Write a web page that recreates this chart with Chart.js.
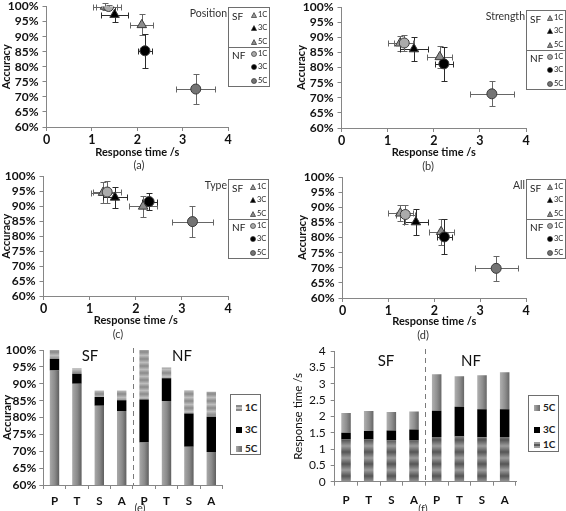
<!DOCTYPE html>
<html>
<head>
<meta charset="utf-8">
<title>Accuracy and response time</title>
<script src="https://cdn.jsdelivr.net/npm/chart.js@4.4.1/dist/chart.umd.min.js"></script>
<style>
  body { margin: 0; background: #fff; }
  #page { position: relative; width: 566px; height: 511px; overflow: hidden; font-family: Lato, sans-serif; color: #222; }
  .panel { position: absolute; }
  .tag { position: absolute; font-size: 11px; transform: translate(-50%, -50%); white-space: nowrap; color: #333; }
  .big { position: absolute; font-size: 15px; transform: translate(-50%, -50%); color: #111; }
  .box { position: absolute; border: 1px solid #6e6e6e; background: #fff; box-sizing: border-box; }
  .sep { position: absolute; left: 0; right: 0; height: 0; border-top: 1px solid #6e6e6e; }
  .grp { position: absolute; left: 3px; font-size: 10px; line-height: 12px; }
  .ent { position: absolute; font-size: 7.5px; line-height: 8px; white-space: nowrap; }
  .ent svg { vertical-align: -1px; margin-right: 1px; }
  .ttl { position: absolute; width: 62px; text-align: right; font-size: 10.5px; line-height: 12px; color: #333; }
  .bent { position: absolute; left: 5px; font-size: 10px; font-weight: bold; line-height: 10px; white-space: nowrap; }
  .sw { display: inline-block; width: 6px; height: 6px; margin-right: 3px; vertical-align: 0; }
</style>
</head>
<body>
<div id="page"></div>
<script>
// tasks in bar order: Position, Type, Strength, All
const tasks = ['P', 'T', 'S', 'A'];
const taskNames = ['Position', 'Type', 'Strength', 'All'];
const groups = ['SF', 'NF'];
const levels = ['1C', '3C', '5C'];

// accuracy (%)
const sfAcc1C = [100, 94.6, 88.0, 88.0];
const sfAcc3C = [97.3, 93.0, 86.1, 85.1];
const sfAcc5C = [93.9, 90.0, 83.5, 81.9];
const nfAcc1C = [100, 94.8, 88.1, 87.6];
const nfAcc3C = [85.3, 91.6, 81.2, 80.2];
const nfAcc5C = [72.6, 84.9, 71.3, 69.8];

// response time (s)
const sfTime1C = [1.29, 1.29, 1.27, 1.26];
const sfTime3C = [1.50, 1.55, 1.57, 1.60];
const sfTime5C = [2.10, 2.16, 2.13, 2.15];
const nfTime1C = [1.37, 1.38, 1.36, 1.37];
const nfTime3C = [2.17, 2.29, 2.22, 2.22];
const nfTime5C = [3.29, 3.23, 3.26, 3.35];

// error bars (+/-)
const sfAccErr1C = [1.0, 3.5, 2.5, 2.6];
const sfAccErr3C = [2.5, 3.4, 4.0, 4.4];
const sfAccErr5C = [3.5, 3.4, 3.7, 4.3];
const nfAccErr1C = [0.6, 3.7, 2.6, 3.0];
const nfAccErr3C = [5.6, 2.8, 5.5, 5.8];
const nfAccErr5C = [4.9, 5.3, 4.1, 4.2];
const sfTimeErr1C = [0.26, 0.27, 0.27, 0.27];
const sfTimeErr3C = [0.29, 0.27, 0.31, 0.27];
const sfTimeErr5C = [0.25, 0.30, 0.27, 0.27];
const nfTimeErr1C = [0.27, 0.30, 0.22, 0.20];
const nfTimeErr3C = [0.16, 0.16, 0.19, 0.17];
const nfTimeErr5C = [0.43, 0.45, 0.47, 0.47];

const accBy = {SF: [sfAcc1C, sfAcc3C, sfAcc5C], NF: [nfAcc1C, nfAcc3C, nfAcc5C]};
const timeBy = {SF: [sfTime1C, sfTime3C, sfTime5C], NF: [nfTime1C, nfTime3C, nfTime5C]};
const accErrBy = {SF: [sfAccErr1C, sfAccErr3C, sfAccErr5C], NF: [nfAccErr1C, nfAccErr3C, nfAccErr5C]};
const timeErrBy = {SF: [sfTimeErr1C, sfTimeErr3C, sfTimeErr5C], NF: [nfTimeErr1C, nfTimeErr3C, nfTimeErr5C]};

const markers = {
  SF: {style: 'triangle', radius: 5.5, fills: ['#9c9c9c', '#000000', '#8c8c8c']},
  NF: {style: 'circle', radius: 5, fills: ['#ababab', '#000000', '#747474']}
};
const axisColor = '#868686';
const page = document.getElementById('page');

function add(cls, css, html, parent) {
  const d = document.createElement('div');
  d.className = cls;
  Object.assign(d.style, css);
  if (html) d.innerHTML = html;
  (parent || page).appendChild(d);
  return d;
}
function makeCanvas(left, top, w, h) {
  const wrap = add('panel', {left: left + 'px', top: top + 'px', width: w + 'px', height: h + 'px'});
  const cv = document.createElement('canvas');
  cv.width = w; cv.height = h;
  wrap.appendChild(cv);
  return cv;
}
function fixScale(size, horizontal) {
  return function (s) {
    if (horizontal) s.height = size; else s.width = size;
    s.paddingTop = s.paddingBottom = s.paddingLeft = s.paddingRight = 0;
  };
}
const px = v => Math.round(v) + 0.5;

const errorBars = {
  id: 'errorBars',
  beforeDatasetsDraw(chart) {
    const {ctx, scales: {x, y}} = chart;
    ctx.save();
    ctx.lineWidth = 1;
    chart.data.datasets.forEach(ds => {
      if (!ds.xErr) return;
      ds.data.forEach((p, i) => {
        const cx = px(x.getPixelForValue(p.x)), cy = px(y.getPixelForValue(p.y));
        const x0 = px(x.getPixelForValue(p.x - ds.xErr[i])), x1 = px(x.getPixelForValue(p.x + ds.xErr[i]));
        const y0 = px(y.getPixelForValue(p.y - ds.yErr[i])), y1 = px(y.getPixelForValue(p.y + ds.yErr[i]));
        ctx.strokeStyle = ds.errColor;
        ctx.beginPath();
        ctx.moveTo(x0, cy); ctx.lineTo(x1, cy);
        ctx.moveTo(x0, cy - 3); ctx.lineTo(x0, cy + 3);
        ctx.moveTo(x1, cy - 3); ctx.lineTo(x1, cy + 3);
        ctx.moveTo(cx, y0); ctx.lineTo(cx, y1);
        ctx.moveTo(cx - 3, y0); ctx.lineTo(cx + 3, y0);
        ctx.moveTo(cx - 3, y1); ctx.lineTo(cx + 3, y1);
        ctx.stroke();
      });
    });
    ctx.restore();
  }
};

const groupDivider = {
  id: 'groupDivider',
  afterDatasetsDraw(chart) {
    const {ctx, chartArea, scales: {x}} = chart;
    const xm = px((x.getPixelForValue(tasks.length - 1) + x.getPixelForValue(tasks.length)) / 2);
    ctx.save();
    ctx.strokeStyle = '#7a7a7a';
    ctx.lineWidth = 1;
    ctx.setLineDash([5, 4]);
    ctx.beginPath();
    ctx.moveTo(xm, chartArea.top - 2);
    ctx.lineTo(xm, chartArea.bottom);
    ctx.stroke();
    ctx.restore();
  }
};

// ---------- scatter panels ----------
const scatterPanels = [
  {tag: '(a)', task: 0, left: 0,   top: 0,   h: 159, padL: 0,    yW: 46.5, padR: 55, padT: 5, bottom: 127, box: [228, 7, 42],   tagPos: [139, 164]},
  {tag: '(b)', task: 2, left: 283, top: 0,   h: 159, padL: 12,   yW: 46.5, padR: 40, padT: 7, bottom: 128, box: [526, 10, 40],  tagPos: [428, 165]},
  {tag: '(c)', task: 1, left: 0,   top: 170, h: 157, padL: 0,    yW: 43.5, padR: 55, padT: 4, bottom: 126, box: [228, 179, 41], tagPos: [118, 333]},
  {tag: '(d)', task: 3, left: 283, top: 170, h: 158, padL: 12.5, yW: 47,   padR: 40, padT: 7, bottom: 128, box: [526, 179, 40], tagPos: [423, 334]}
];

function scatterSets(t) {
  const sets = [];
  groups.forEach(g => levels.forEach((lv, k) => {
    const m = markers[g];
    sets.push({
      label: g + ' ' + lv,
      data: [{x: timeBy[g][k][t], y: accBy[g][k][t]}],
      xErr: [timeErrBy[g][k][t]],
      yErr: [accErrBy[g][k][t]],
      errColor: k === 1 ? '#2a2a2a' : '#666666',
      pointStyle: m.style,
      pointRadius: m.radius,
      backgroundColor: m.fills[k],
      borderColor: '#3a3a3a',
      borderWidth: 1,
      order: g === 'NF' ? 0 : 1
    });
  }));
  return sets;
}

function symbolSvg(g, k) {
  const fill = markers[g].fills[k];
  if (g === 'SF') return '<svg width="6" height="6"><polygon points="3,0.6 5.6,5.5 0.4,5.5" fill="' + fill + '" stroke="#333" stroke-width="0.7"/></svg>';
  return '<svg width="6" height="6"><circle cx="3" cy="3" r="2.5" fill="' + fill + '" stroke="#333" stroke-width="0.7"/></svg>';
}

function scatterLegend(left, top, width, title) {
  add('ttl', {left: (left - 63) + 'px', top: top + 'px'}, title);
  const box = add('box', {left: left + 'px', top: top + 'px', width: width + 'px', height: '80px'});
  add('sep', {top: '39px'}, null, box);
  groups.forEach((g, gi) => {
    const base = gi * 39;
    add('grp', {top: (base + 2) + 'px'}, g, box);
    levels.forEach((lv, k) => {
      add('ent', {top: (base + 3 + k * 13.3) + 'px', left: (width - 20) + 'px'}, symbolSvg(g, k) + lv, box);
    });
  });
}

scatterPanels.forEach(p => {
  const cv = makeCanvas(p.left, p.top, 283, p.h);
  new Chart(cv, {
    type: 'scatter',
    data: {datasets: scatterSets(p.task)},
    plugins: [errorBars],
    options: {
      responsive: false,
      animation: false,
      events: [],
      layout: {padding: {left: p.padL, right: p.padR, top: p.padT, bottom: 0}},
      plugins: {legend: {display: false}, tooltip: {enabled: false}},
      scales: {
        x: {
          type: 'linear', min: 0, max: 4,
          ticks: {stepSize: 1, padding: 1, autoSkip: false, color: '#111', font: {family: 'Lato', size: 12.5, weight: 'bold'}},
          grid: {drawOnChartArea: false, tickLength: 4, color: axisColor},
          border: {color: axisColor},
          title: {display: true, text: 'Response time /s', color: '#111', padding: 0, font: {family: 'Lato', size: 11, weight: 'bold'}},
          afterFit: fixScale(p.h - p.bottom, true)
        },
        y: {
          min: 60, max: 100,
          ticks: {stepSize: 5, padding: 4, autoSkip: false, color: '#111', callback: v => v + '%', font: {family: 'Lato', size: 12, weight: 'bold'}},
          grid: {drawOnChartArea: false, tickLength: 4, color: axisColor},
          border: {color: axisColor},
          title: {display: true, text: 'Accuracy', color: '#111', padding: 0, font: {family: 'Lato', size: 11, weight: 'bold'}},
          afterFit: fixScale(p.yW, false)
        }
      }
    }
  });
  scatterLegend(p.box[0], p.box[1], p.box[2], taskNames[p.task]);
  add('tag', {left: p.tagPos[0] + 'px', top: p.tagPos[1] + 'px'}, p.tag);
});

// ---------- bar panels ----------
function stripes(c1, c2, period) {
  const t = document.createElement('canvas');
  t.width = 4; t.height = period;
  const g = t.getContext('2d');
  const grd = g.createLinearGradient(0, 0, 0, period);
  grd.addColorStop(0, c1); grd.addColorStop(0.5, c2); grd.addColorStop(1, c1);
  g.fillStyle = grd;
  g.fillRect(0, 0, 4, period);
  return g.createPattern(t, 'repeat');
}
function cylinder(c1, c2, c3) {
  return function (c) {
    const chart = c.chart, xs = chart.scales.x;
    if (!xs || c.dataIndex === undefined || !xs.width) return c2;
    const cx = xs.getPixelForValue(c.dataIndex);
    const w = xs.width / chart.data.labels.length * 0.42;
    const g = chart.ctx.createLinearGradient(cx - w / 2, 0, cx + w / 2, 0);
    g.addColorStop(0, c1); g.addColorStop(0.55, c2); g.addColorStop(1, c3);
    return g;
  };
}
const diff = (a, b) => a.map((v, i) => v - b[i]);
const both = (sf, nf) => sf.concat(nf);
const barLabels = tasks.concat(tasks);

function barChart(left, top, cfg) {
  const cv = makeCanvas(left, top, 283, 173);
  new Chart(cv, {
    type: 'bar',
    data: {
      labels: barLabels,
      datasets: cfg.sets.map(s => ({
        label: s.label, data: s.data, backgroundColor: s.fill,
        borderWidth: 0, barPercentage: 0.84, categoryPercentage: 0.5
      }))
    },
    plugins: [groupDivider],
    options: {
      responsive: false,
      animation: false,
      events: [],
      layout: {padding: {left: 0, right: cfg.padR, top: cfg.padT, bottom: 0}},
      plugins: {legend: {display: false}, tooltip: {enabled: false}},
      scales: {
        x: {
          stacked: true,
          ticks: {padding: cfg.xPad, autoSkip: false, color: '#111', font: {family: 'Lato', size: 11.5, weight: 'bold'}},
          grid: {drawOnChartArea: false, offset: true, tickLength: 4, color: axisColor},
          border: {color: axisColor},
          afterFit: fixScale(173 - cfg.bottom, true)
        },
        y: {
          stacked: true, min: cfg.min, max: cfg.max,
          ticks: {stepSize: cfg.step, padding: cfg.yPad, autoSkip: false, color: '#111', callback: cfg.fmt, font: {family: 'Lato', size: 12, weight: cfg.tickWeight}},
          grid: {drawOnChartArea: false, tickLength: 4, color: axisColor},
          border: {color: axisColor},
          title: {display: true, text: cfg.yTitle, color: '#111', padding: {top: cfg.titlePad}, font: {family: 'Lato', size: 11.5, weight: cfg.titleWeight}},
          afterFit: fixScale(cfg.yW, false)
        }
      }
    }
  });
}

// (e) accuracy, 5C at the bottom, stacked up to 3C and 1C
const acc5 = both(sfAcc5C, nfAcc5C), acc3 = both(sfAcc3C, nfAcc3C), acc1 = both(sfAcc1C, nfAcc1C);
barChart(0, 338, {
  sets: [
    {label: '5C', data: acc5, fill: cylinder('#a9a9a9', '#8a8a8a', '#5e5e5e')},
    {label: '3C', data: diff(acc3, acc5), fill: '#000000'},
    {label: '1C', data: diff(acc1, acc3), fill: stripes('#8a8a8a', '#bdbdbd', 7)}
  ],
  min: 60, max: 100, step: 5, fmt: v => v + '%',
  padR: 60.5, padT: 12, bottom: 147, yW: 43.3, xPad: 5, yPad: 3,
  yTitle: 'Accurary', titlePad: 0, titleWeight: 'bold', tickWeight: 'bold'
});

// (f) response time, 1C at the bottom, stacked up to 3C and 5C
const t1 = both(sfTime1C, nfTime1C), t3 = both(sfTime3C, nfTime3C), t5 = both(sfTime5C, nfTime5C);
barChart(283, 338, {
  sets: [
    {label: '1C', data: t1, fill: stripes('#9c9c9c', '#555555', 12)},
    {label: '3C', data: diff(t3, t1), fill: '#000000'},
    {label: '5C', data: diff(t5, t3), fill: cylinder('#b0b0b0', '#8e8e8e', '#666666')}
  ],
  min: 0, max: 4, step: 0.5, fmt: v => String(v),
  padR: 50, padT: 13, bottom: 143.7, yW: 51.7, xPad: 8, yPad: 5,
  yTitle: 'Response time /s', titlePad: 8, titleWeight: 'normal', tickWeight: 'normal'
});

// group labels and legends for the bar panels
add('big', {left: '90px', top: '355px'}, 'SF');
add('big', {left: '182px', top: '355px'}, 'NF');
add('big', {left: '386px', top: '360px'}, 'SF');
add('big', {left: '471px', top: '360px'}, 'NF');

const stripeCss = 'repeating-linear-gradient(#8a8a8a 0 2px, #bdbdbd 2px 4px)';
const cylCss = 'linear-gradient(to right, #a9a9a9, #6a6a6a)';
function barLegend(left, top, h, entries) {
  const box = add('box', {left: left + 'px', top: top + 'px', width: '31px', height: h + 'px'});
  entries.forEach(e => {
    add('bent', {top: (e.y - 5) + 'px'}, '<span class="sw" style="background:' + e.bg + '"></span>' + e.label, box);
  });
}
barLegend(230, 394, 61, [
  {label: levels[0], bg: stripeCss, y: 12},
  {label: levels[1], bg: '#000', y: 34},
  {label: levels[2], bg: cylCss, y: 53}
]);
barLegend(528, 395, 57, [
  {label: levels[2], bg: cylCss, y: 11},
  {label: levels[1], bg: '#000', y: 33},
  {label: levels[0], bg: 'repeating-linear-gradient(#9c9c9c 0 2px, #5a5a5a 2px 4px)', y: 48}
]);
add('tag', {left: '140px', top: '507px'}, '(e)');
add('tag', {left: '423px', top: '508px'}, '(f)');
</script>
</body>
</html>
